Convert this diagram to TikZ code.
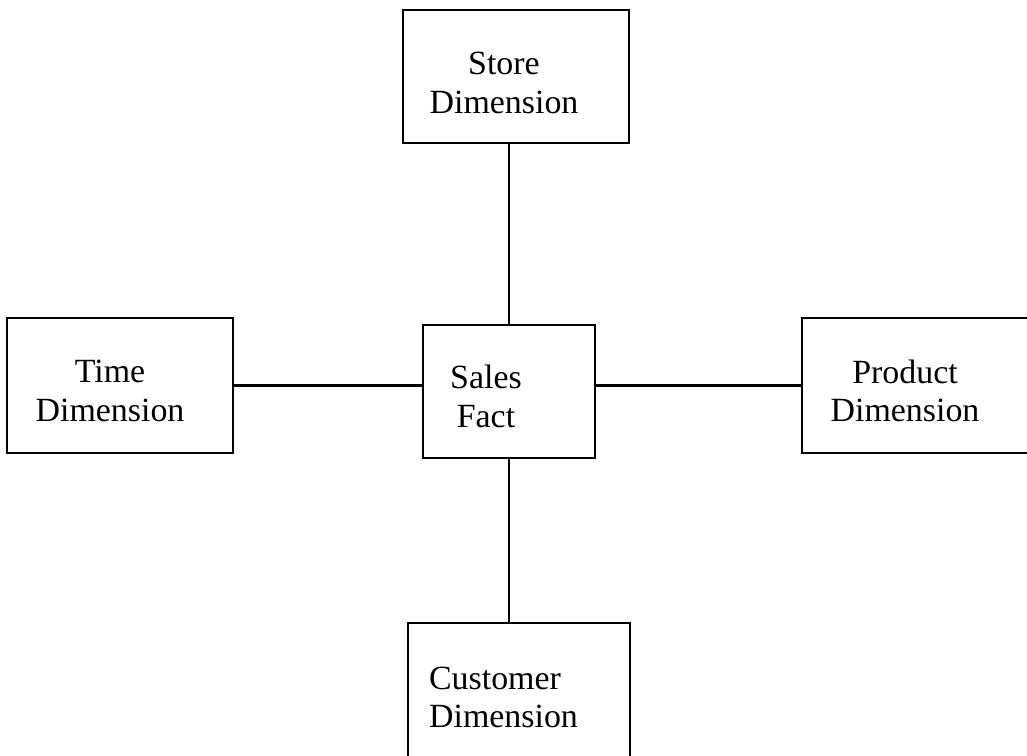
\documentclass[tikz,border=0pt]{standalone}
\usepackage{fontspec}
\setmainfont{Liberation Serif}
\usetikzlibrary{positioning}
\tikzset{
  dimbox/.style={rectangle, draw, line width=1.5pt, inner sep=0pt},
  boxtext/.style={align=center, inner sep=0pt, font=\fontsize{19.3}{22}\selectfont},
  link/.style={line width=1.5pt}
}

\begin{document}
\begin{tikzpicture}[x=0.02cm, y=-0.02cm]

  \useasboundingbox (0,0) rectangle (1027,755);

  \node[dimbox, minimum width=172*0.02cm, minimum height=133*0.02cm,
        label={[boxtext, shift={(-23,5)}]center:{Sales\\Fact}}] (sales) at (509,391.5) {};

  \node[dimbox, minimum width=226*0.02cm, minimum height=133*0.02cm,
        label={[boxtext, shift={(-12,6.5)}]center:{Store\\Dimension}}] (store) at (516,76.5) {};
  \node[dimbox, minimum width=226*0.02cm, minimum height=135*0.02cm,
        label={[boxtext, shift={(-10,5.5)}]center:{Time\\Dimension}}] (time) at (120,385.5) {};
  \node[dimbox, minimum width=238*0.02cm, minimum height=135*0.02cm,
        label={[boxtext, shift={(-16,5.5)}]center:{Product\\Dimension}}] (product) at (921,385.5) {};
  \node[dimbox, minimum width=222*0.02cm, minimum height=147*0.02cm,
        label={[boxtext, align=left, shift={(-15.5,1)}]center:{Customer\\Dimension}}] (customer) at (519,696.5) {};

  \draw[link] (sales.north) -- (sales.north |- store.south);
  \draw[link] (sales.south) -- (sales.south |- customer.north);
  \draw[link] (time.east) -- (time.east -| sales.west);
  \draw[link] (sales.east |- product.west) -- (product.west);
\end{tikzpicture}
\end{document}
